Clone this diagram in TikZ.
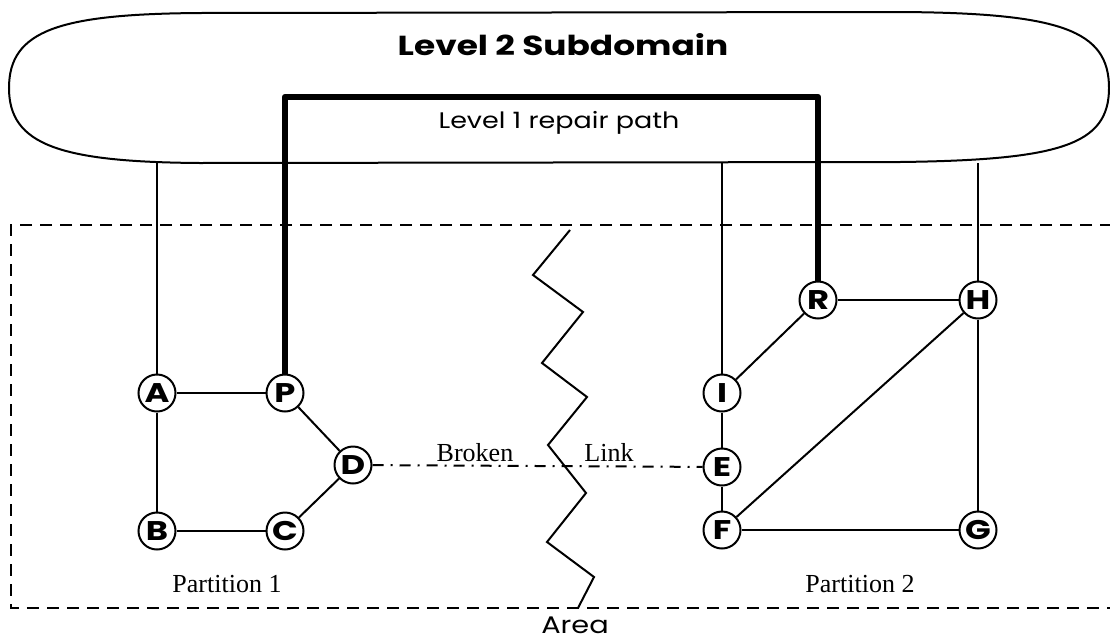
\documentclass[tikz,border=0pt]{standalone}
\usepackage{fontspec}
\setmainfont{Liberation Serif}
\newfontfamily\geofont[FakeStretch=1.2]{Poppins}
\newfontfamily\geoboldfont[FakeStretch=1.25]{Poppins}

\tikzset{
  router/.style={circle,draw,line width=2pt,minimum size=37pt,inner sep=0pt,
    font=\geoboldfont\bfseries\fontsize{27}{27}\selectfont},
  link/.style={line width=2pt},
  repair/.style={line width=6.5pt,line join=round},
  brokenlink/.style={line width=2pt,dash pattern=on 11pt off 7pt on 2pt off 7pt},
  areabox/.style={line width=2pt,dash pattern=on 12pt off 8pt},
  serif/.style={font=\fontsize{26}{26}\selectfont,anchor=base,inner sep=0pt}
}

\begin{document}
\begin{tikzpicture}[x=1pt,y=-1pt]
        \useasboundingbox (0,0) rectangle (1110,643);
        % Level 2 cloud
        \draw [line width=2pt] (9,88) .. controls (9,30) and (60,14) .. (200,13)
          -- (900,12) .. controls (1060,13) and (1109,30) .. (1109,88)
          .. controls (1109,145) and (1060,160) .. (900,162)
          -- (200,163) .. controls (60,162) and (9,145) .. cycle;
        \node (title) at (563,55) [anchor=base,inner sep=0pt,font=\geoboldfont\bfseries\fontsize{27.5}{27.5}\selectfont] {Level 2 Subdomain};
        \node (repairlabel) at (559,128) [anchor=base,inner sep=0pt,font=\geofont\fontsize{22.5}{22.5}\selectfont] {Level 1 repair path};
        % Area (dashed, open at the right edge)
        \draw [areabox] (1112,225) -- (11,225) -- (11,608) -- (1112,608);
        \node (area) at (575,633) [anchor=base,inner sep=0pt,font=\geofont\fontsize{24}{24}\selectfont] {Area};
        % Partition 1
        \node[router] (A) at (157,393) {A};
        \node[router] (P) at (285,393) {P};
        \node[router] (B) at (157,531) {B};
        \node[router] (C) at (285,531) {C};
        \node[router] (D) at (353,465) {D};
        % Partition 2
        \node[router] (R) at (818,300) {R};
        \node[router] (H) at (978,300) {H};
        \node[router] (I) at (722,393) {I};
        \node[router] (E) at (722,467) {E};
        \node[router] (F) at (722,530) {F};
        \node[router] (G) at (978,530) {G};
        % links
        \draw [link] (A) -- (P);
        \draw [link] (A) -- (B);
        \draw [link] (B) -- (C);
        \draw [link] (C) -- (D);
        \draw [link] (P) -- (D);
        \draw [link] (I) -- (R);
        \draw [link] (R) -- (H);
        \draw [link] (H) -- (G);
        \draw [link] (F) -- (G);
        \draw [link] (F) -- (H);
        \draw [link] (I) -- (E);
        \draw [link] (E) -- (F);
        % Uplinks to level 2
        \coordinate (upA) at (157,163);
        \coordinate (upI) at (722,163);
        \coordinate (upH) at (978,163);
        \draw [link] (upA) -- (A);
        \draw [link] (upI) -- (I);
        \draw [link] (upH) -- (H);
        % Repair path
        \coordinate (repL) at (285,97);
        \coordinate (repR) at (818,97);
        \draw [repair] (P.north) -- (repL) -- (repR) -- (R.north);
        % Broken link
        \draw [brokenlink] (D) -- (E);
        \node[serif] (broken) at (475,461) {Broken};
        \node[serif] (linklabel) at (609,461) {Link};
        % Partition split
        \draw [link] (570,230) -- (533,275) -- (583,312) -- (542,363) -- (587,397)
          -- (548,445) -- (586,493) -- (547,542) -- (594,577) -- (578,608);
        \node[serif] (part1) at (227,592) {Partition 1};
        \node[serif] (part2) at (860,592) {Partition 2};
    \end{tikzpicture}
\end{document}
